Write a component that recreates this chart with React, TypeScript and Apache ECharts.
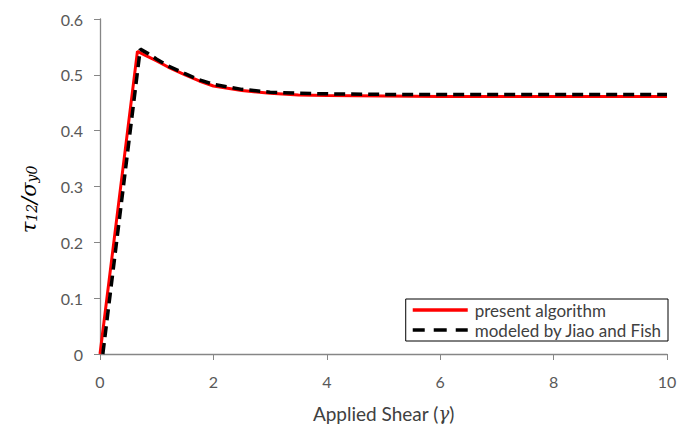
import React, { useEffect, useRef } from "react";
import * as echarts from "echarts";

const redX = [0, 0.66, 0.8, 1.0, 1.2, 1.5, 1.75, 2.0, 2.5, 3.0, 3.5, 4.0, 5, 6, 7, 8, 9, 10];
const redY = [0, 0.542, 0.535, 0.525, 0.514, 0.5, 0.489, 0.48, 0.472, 0.467, 0.464, 0.463, 0.462, 0.461, 0.461, 0.461, 0.461, 0.461];

const blackX = [0.05, 0.71, 0.85, 1.0, 1.2, 1.5, 1.75, 2.0, 2.5, 3.0, 3.5, 4.0, 5, 6, 7, 8, 9, 10];
const blackY = [0, 0.546, 0.538, 0.528, 0.516, 0.502, 0.491, 0.483, 0.474, 0.469, 0.467, 0.466, 0.465, 0.465, 0.465, 0.465, 0.465, 0.465];

const seriesNames = ["present algorithm", "modeled by Jiao and Fish"];
const xLabel = "Applied Shear (";

export default function App() {
  const ref = useRef<HTMLDivElement>(null);
  useEffect(() => {
    if (!ref.current) return;
    const chart = echarts.init(ref.current, undefined, { renderer: "svg" });
    const font = "Lato, 'Open Sans', sans-serif";
    chart.setOption({
      animation: false,
      backgroundColor: "#ffffff",
      grid: { left: 100, right: 11, top: 19, bottom: 70, containLabel: false, outerBoundsMode: "none" },
      xAxis: {
        type: "value",
        min: 0,
        max: 10,
        interval: 2,
        name: `{n|${xLabel}}{g|γ}{n|)}`,
        nameLocation: "middle",
        nameGap: 50,
        nameTextStyle: {
          lineHeight: 18,
          rich: {
            n: { fontFamily: font, fontSize: 19, color: "#404040", lineHeight: 18 },
            g: { fontFamily: "'DejaVu Serif', serif", fontStyle: "italic", fontSize: 18, color: "#404040", lineHeight: 18 },
          },
        },
        axisLine: { lineStyle: { color: "#868686", width: 1.3 } },
        axisTick: { show: true, inside: false, length: 6, lineStyle: { color: "#868686" } },
        axisLabel: { fontFamily: font, fontSize: 16, color: "#595959", margin: 19 },
        splitLine: { show: false },
      },
      yAxis: {
        type: "value",
        min: 0,
        max: 0.6,
        interval: 0.1,
        name: "{i|τ}{s|12}{i|/σ}{s|y0}",
        nameLocation: "middle",
        nameRotate: 90,
        nameGap: 61,
        nameTextStyle: {
          padding: [0, 26, 0, 0],
          rich: {
            i: { fontFamily: "'DejaVu Serif', serif", fontStyle: "italic", fontSize: 21, color: "#000", lineHeight: 26, verticalAlign: "bottom" },
            s: { fontFamily: "'DejaVu Serif', serif", fontStyle: "italic", fontSize: 14, color: "#000", lineHeight: 19, verticalAlign: "bottom" },
          },
        },
        axisLine: { show: true, lineStyle: { color: "#868686", width: 1.3 } },
        axisTick: { show: true, inside: false, length: 6, lineStyle: { color: "#868686" } },
        axisLabel: { fontFamily: font, fontSize: 16, color: "#595959", margin: 17 },
        splitLine: { show: false },
      },
      legend: {
        orient: "vertical",
        right: 10,
        top: 299,
        backgroundColor: "#ffffff",
        borderColor: "#000000",
        borderWidth: 1,
        borderRadius: 0,
        padding: [1, 6, 1, 7],
        itemGap: 0,
        itemWidth: 55,
        itemHeight: 3.5,
        textStyle: { fontFamily: font, fontSize: 17, color: "#404040", lineHeight: 20, padding: [0, 0, 0, 2] },
        data: [
          { name: seriesNames[0], icon: "path://M0,0h55v3.5h-55z" },
          { name: seriesNames[1], icon: "path://M0,0h12v3.5h-12zM21,0h13v3.5h-13zM43,0h12v3.5h-12z" },
        ],
      },
      series: [
        {
          name: seriesNames[0],
          type: "line",
          symbol: "none",
          data: redX.map((x, i) => [x, redY[i]]),
          lineStyle: { color: "#ff0000", width: 3 },
          itemStyle: { color: "#ff0000" },
          z: 2,
        },
        {
          name: seriesNames[1],
          type: "line",
          symbol: "none",
          data: blackX.map((x, i) => [x, blackY[i]]),
          lineStyle: { color: "#000000", width: 3.5, type: [11, 6] },
          itemStyle: { color: "#000000" },
          z: 3,
        },
      ],
    });
    return () => chart.dispose();
  }, []);
  return <div ref={ref} style={{ width: 678, height: 424, position: "absolute", left: 0, top: 0 }} />;
}
